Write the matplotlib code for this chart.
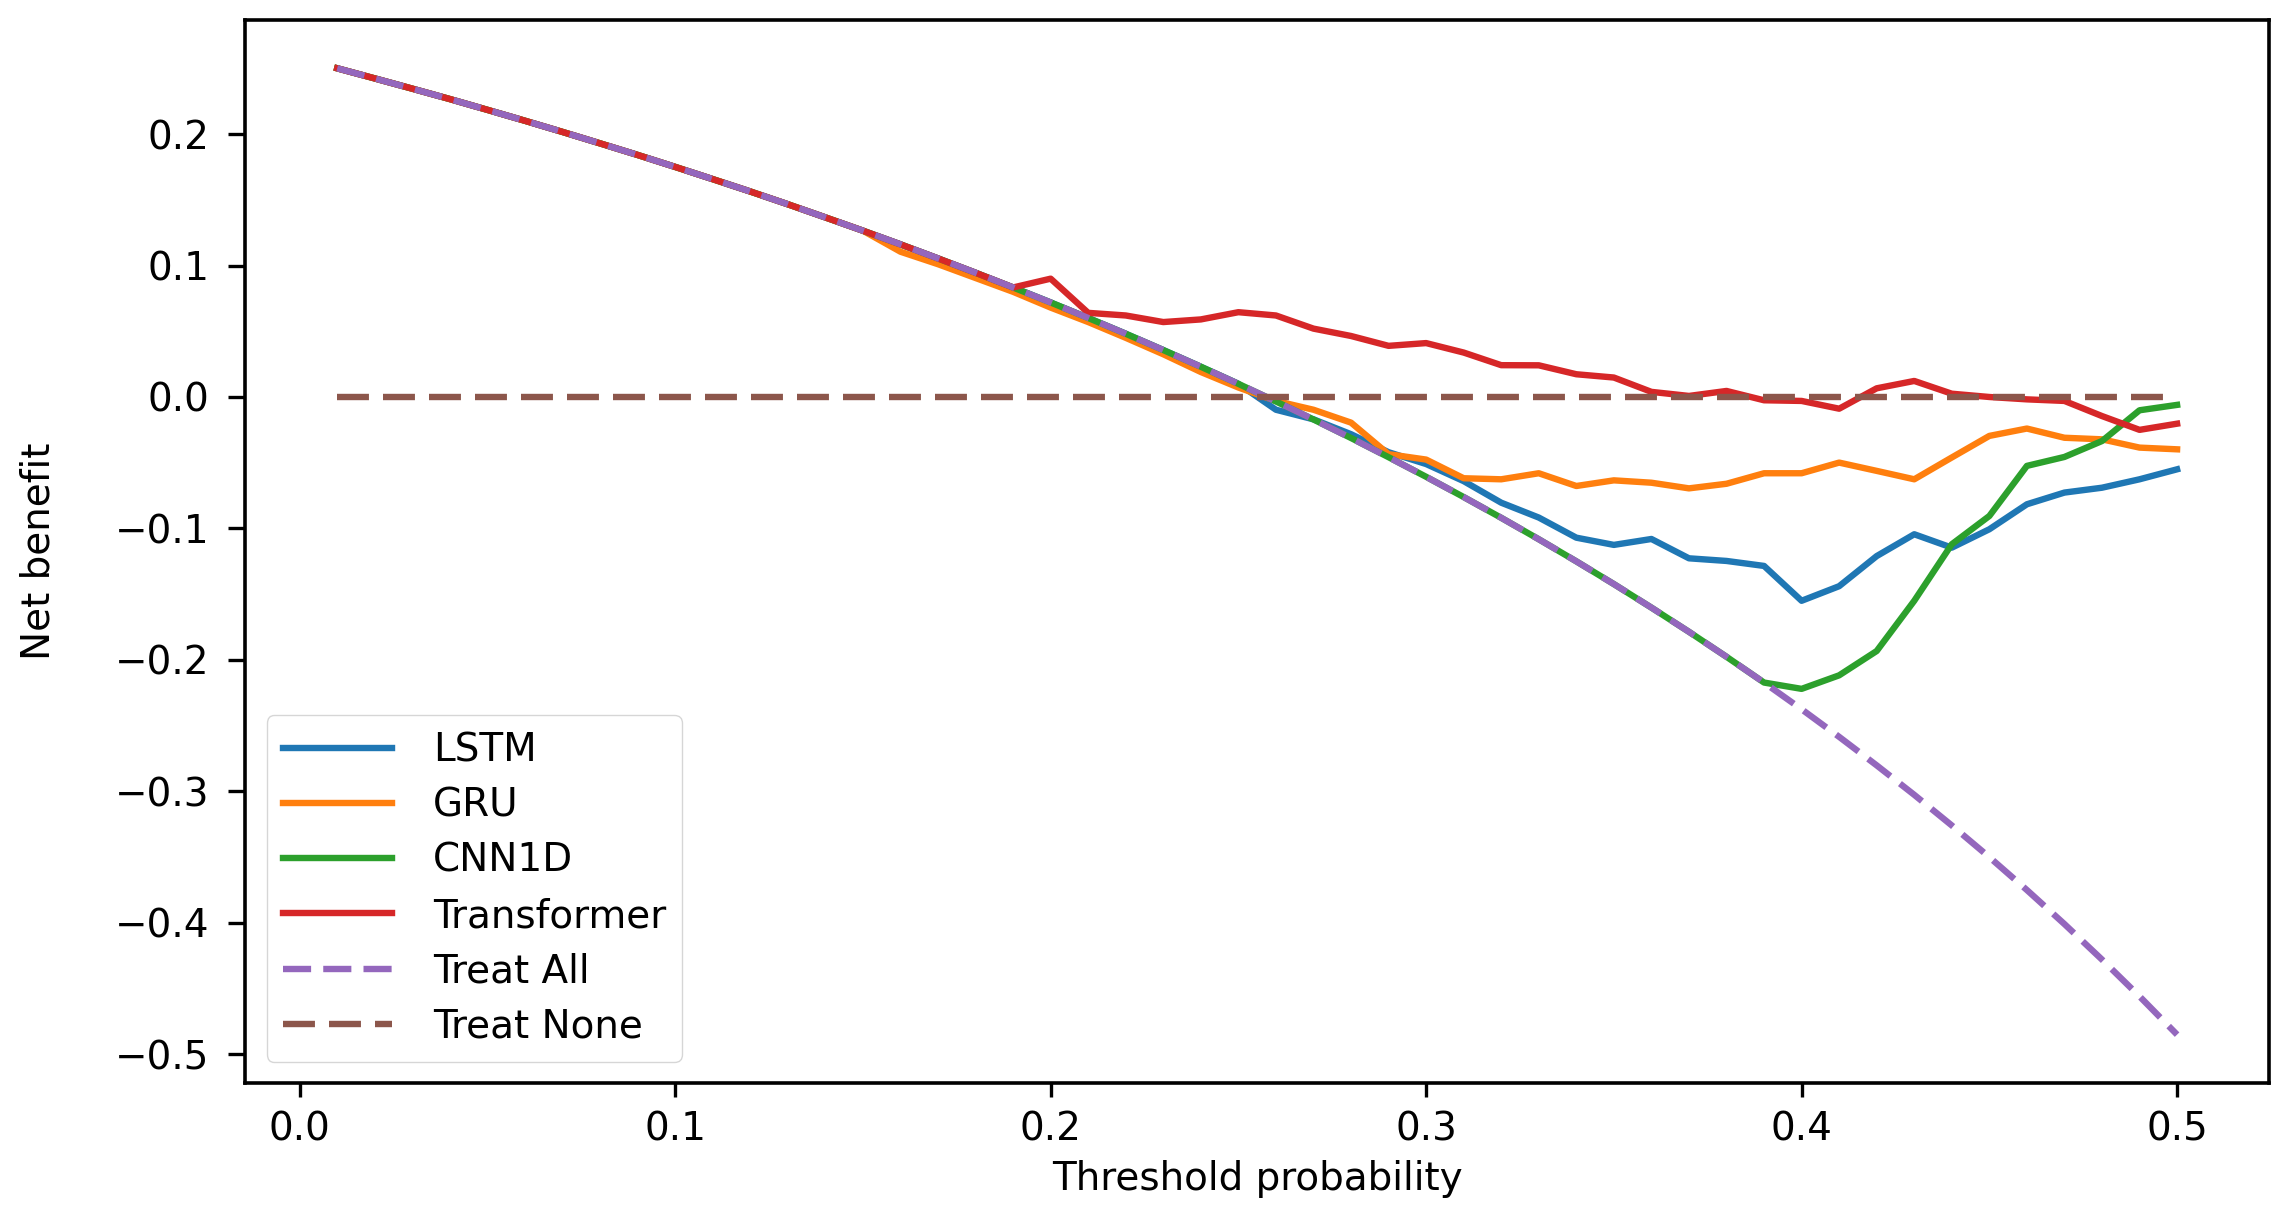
import matplotlib
matplotlib.use("Agg")
import matplotlib.pyplot as plt

thresholds = [round(0.01 * i, 2) for i in range(1, 51)]

treat_all = [0.2500, 0.2423, 0.2345, 0.2266, 0.2184, 0.2101, 0.2016, 0.1929, 0.1841, 0.1750,
             0.1657, 0.1563, 0.1466, 0.1366, 0.1265, 0.1161, 0.1054, 0.0945, 0.0833, 0.0719,
             0.0601, 0.0481, 0.0357, 0.0230, 0.0100, -0.0034, -0.0171, -0.0312, -0.0458, -0.0607,
             -0.0761, -0.0919, -0.1082, -0.1250, -0.1423, -0.1602, -0.1786, -0.1976, -0.2172, -0.2375,
             -0.2585, -0.2802, -0.3026, -0.3259, -0.3500, -0.3750, -0.4009, -0.4279, -0.4559, -0.4850]

treat_none = [0.0] * 50

lstm = [0.2500, 0.2423, 0.2345, 0.2266, 0.2184, 0.2101, 0.2016, 0.1929, 0.1841, 0.1750,
        0.1657, 0.1563, 0.1466, 0.1366, 0.1265, 0.1161, 0.1054, 0.0945, 0.0833, 0.0719,
        0.0601, 0.0481, 0.0357, 0.0230, 0.0100, -0.0097, -0.0170, -0.0283, -0.0420, -0.0510,
        -0.0640, -0.0804, -0.0917, -0.1070, -0.1125, -0.1080, -0.1227, -0.1247, -0.1285, -0.1550,
        -0.1439, -0.1210, -0.1044, -0.1146, -0.1006, -0.0816, -0.0727, -0.0690, -0.0626, -0.0550]

gru = [0.2500, 0.2423, 0.2345, 0.2266, 0.2184, 0.2101, 0.2016, 0.1929, 0.1841, 0.1750,
       0.1657, 0.1563, 0.1466, 0.1366, 0.1265, 0.1105, 0.1010, 0.0905, 0.0800, 0.0680,
       0.0570, 0.0450, 0.0325, 0.0190, 0.0072, -0.0030, -0.0097, -0.0195, -0.0435, -0.0476,
       -0.0618, -0.0626, -0.0580, -0.0677, -0.0634, -0.0652, -0.0695, -0.0660, -0.0580, -0.0580,
       -0.0499, -0.0562, -0.0626, -0.0460, -0.0296, -0.0240, -0.0310, -0.0322, -0.0385, -0.0398]

cnn1d = [0.2500, 0.2423, 0.2345, 0.2266, 0.2184, 0.2101, 0.2016, 0.1929, 0.1841, 0.1750,
         0.1657, 0.1563, 0.1466, 0.1366, 0.1265, 0.1161, 0.1054, 0.0945, 0.0833, 0.0719,
         0.0601, 0.0481, 0.0357, 0.0230, 0.0100, -0.0034, -0.0171, -0.0312, -0.0458, -0.0607,
         -0.0761, -0.0919, -0.1082, -0.1250, -0.1423, -0.1602, -0.1786, -0.1976, -0.2172, -0.2220,
         -0.2117, -0.1932, -0.1550, -0.1120, -0.0905, -0.0524, -0.0456, -0.0335, -0.0101, -0.0060]

transformer = [0.2500, 0.2423, 0.2345, 0.2266, 0.2184, 0.2101, 0.2016, 0.1929, 0.1841, 0.1750,
               0.1657, 0.1563, 0.1466, 0.1366, 0.1265, 0.1161, 0.1054, 0.0945, 0.0833, 0.0900,
               0.0640, 0.0620, 0.0570, 0.0590, 0.0645, 0.0620, 0.0520, 0.0464, 0.0389, 0.0410,
               0.0338, 0.0242, 0.0241, 0.0173, 0.0148, 0.0039, 0.0008, 0.0046, -0.0025, -0.0030,
               -0.0089, 0.0066, 0.0122, 0.0025, 0.0000, -0.0018, -0.0030, -0.0145, -0.0250, -0.0203]

model_names = ["LSTM", "GRU", "CNN1D", "Transformer"]
model_values = [lstm, gru, cnn1d, transformer]

FS = 28
plt.rcParams.update({
    "font.family": "DejaVu Sans",
    "font.size": FS,
    "axes.linewidth": 2.6,
    "xtick.major.size": 10,
    "ytick.major.size": 12,
    "xtick.major.width": 2.4,
    "ytick.major.width": 2.4,
    "xtick.major.pad": 10,
    "ytick.major.pad": 14,
})

fig = plt.figure(figsize=(22.92, 12.19), dpi=100)
ax = fig.add_axes([0.107, 0.1116, 0.883, 0.872])

LW = 4.6
for name, vals in zip(model_names, model_values):
    ax.plot(thresholds, vals, label=name, linewidth=LW)
ax.plot(thresholds, treat_all, linestyle="--", dashes=(4.4, 1.9), label="Treat All", linewidth=LW)
ax.plot(thresholds, treat_none, linestyle="--", dashes=(5.0, 2.2), label="Treat None", linewidth=LW)

ax.set_xlabel("Threshold probability", fontsize=FS, labelpad=8)
ax.set_ylabel("Net benefit", fontsize=FS)
ax.yaxis.set_label_coords(-0.093, 0.5)
ax.tick_params(labelsize=FS)

ax.legend(loc="lower left", fontsize=FS, handlelength=2.8, handletextpad=1.05,
          borderpad=0.42, labelspacing=0.44, borderaxespad=0.55)

fig.savefig("out.png", dpi=100)
